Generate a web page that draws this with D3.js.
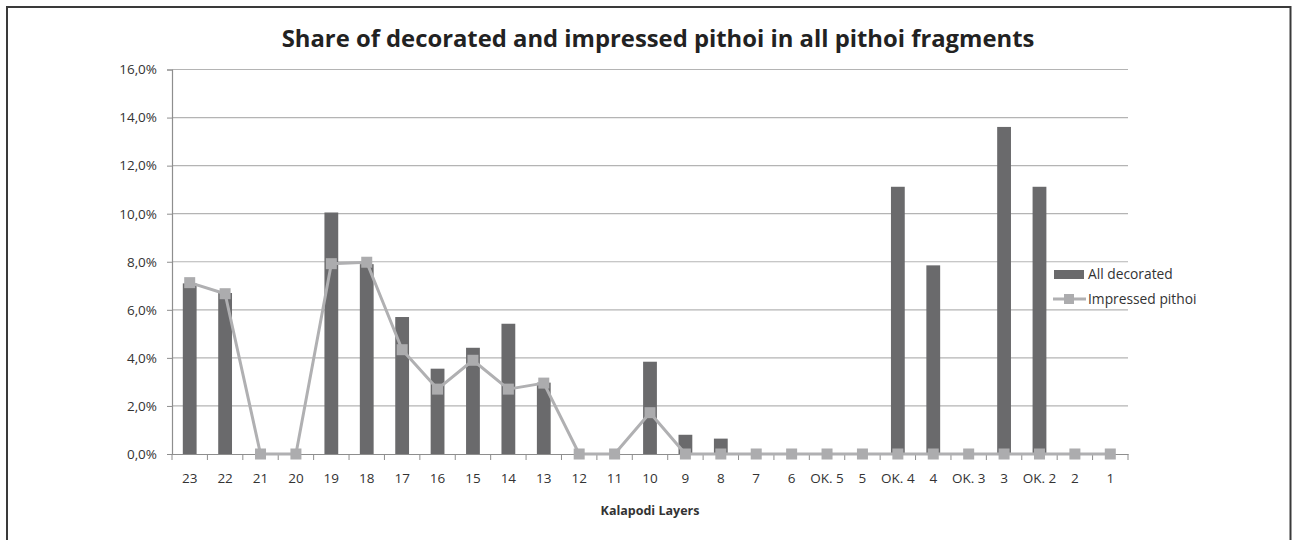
<!DOCTYPE html>
<html><head><meta charset="utf-8">
<script src="https://cdn.jsdelivr.net/npm/d3@7"></script>
<style>body{margin:0;background:#fff;}svg{display:block;font-family:"Open Sans","Noto Sans",sans-serif;}</style>
</head><body><svg id="c" width="1292" height="540"></svg>
<script>
const categories = ["23","22","21","20","19","18","17","16","15","14","13","12","11","10","9","8","7","6","OK. 5","5","OK. 4","4","OK. 3","3","OK. 2","2","1"];
const allDecorated = [7.1,6.7,0,0,10.05,7.9,5.7,3.55,4.42,5.42,2.97,0,0,3.84,0.8,0.64,0,0,0,0,11.12,7.85,0,13.61,11.12,0,0];
const impressed = [7.13,6.67,0,0,7.92,7.98,4.34,2.7,3.9,2.7,2.95,0,0,1.72,0,0,0,0,0,0,0,0,0,0,0,0,0];
const yTicks = [0,2,4,6,8,10,12,14,16];
const seriesNames = ["All decorated","Impressed pithoi"];
const titleText = "Share of decorated and impressed pithoi in all pithoi fragments";
const xTitle = "Kalapodi Layers";

const svg = d3.select("#c");
const L = 172, R = 1128, T = 69.5, B = 454;
const xb = d3.scaleBand().domain(categories).range([L, R]);
const y = d3.scaleLinear().domain([0,16]).range([B, T]);

svg.append("rect").attr("x",7).attr("y",7).attr("width",1283.5).attr("height",560)
  .attr("fill","#fff").attr("stroke","#3a3a3a").attr("stroke-width",2);

// gridlines
svg.append("g").selectAll("line").data(yTicks.filter(d=>d>0)).join("line")
  .attr("x1",L).attr("x2",R).attr("y1",d=>y(d)).attr("y2",d=>y(d))
  .attr("stroke","#b4b4b4").attr("stroke-width",1.2);

// y axis
const ya = svg.append("g").attr("transform",`translate(${L},0)`)
  .call(d3.axisLeft(y).tickValues(yTicks).tickSize(5).tickPadding(10).tickFormat(d=>d.toFixed(1).replace(".",",")+"%"));
ya.select(".domain").attr("stroke","#8e8e8e").attr("stroke-width",1.2);
ya.selectAll(".tick line").attr("stroke","#8e8e8e");
ya.selectAll("text").attr("font-size",13.5).attr("fill","#333").attr("font-family","Open Sans");

// bars
svg.append("g").selectAll("rect").data(categories).join("rect")
  .attr("x",d=>xb(d)+xb.bandwidth()/2-6.9).attr("width",13.8)
  .attr("y",(d,i)=>y(allDecorated[i])).attr("height",(d,i)=>B-y(allDecorated[i]))
  .attr("fill","#6a6a6c");

// x axis
const xa = svg.append("g").attr("transform",`translate(0,${B})`)
  .call(d3.axisBottom(xb).tickSize(0).tickPadding(19));
xa.select(".domain").attr("stroke","#8e8e8e").attr("stroke-width",1.2);
xa.selectAll("text").attr("font-size",13.5).attr("fill","#333").attr("font-family","Open Sans");
svg.append("g").selectAll("line").data(d3.range(categories.length+1)).join("line")
  .attr("x1",i=>L+i*xb.step()).attr("x2",i=>L+i*xb.step()).attr("y1",B).attr("y2",B+6)
  .attr("stroke","#8e8e8e").attr("stroke-width",1);

// line
const line = d3.line().x((d,i)=>xb(categories[i])+xb.bandwidth()/2).y(d=>y(d));
svg.append("path").datum(impressed).attr("d",line).attr("fill","none")
  .attr("stroke","#b0b0b2").attr("stroke-width",3).attr("stroke-linejoin","round");
svg.append("g").selectAll("rect").data(impressed).join("rect")
  .attr("x",(d,i)=>xb(categories[i])+xb.bandwidth()/2-5.5).attr("y",d=>y(d)-5.5)
  .attr("width",11).attr("height",11).attr("fill","#acacae");

// title
const t = svg.append("text").attr("x",658).attr("y",47).attr("text-anchor","middle")
  .attr("font-size",25).attr("font-weight","bold").attr("fill","#222").text(titleText);
const tw = t.node().getComputedTextLength();
t.attr("font-size",25*753/tw);

svg.append("text").attr("x",650).attr("y",515).attr("text-anchor","middle")
  .attr("font-size",12.5).attr("font-weight","bold").attr("fill","#333").text(xTitle);

// legend
const lg = svg.append("g");
lg.append("rect").attr("x",1054).attr("y",270).attr("width",30).attr("height",9).attr("fill","#6a6a6c");
lg.append("line").attr("x1",1053).attr("x2",1086).attr("y1",299).attr("y2",299).attr("stroke","#b0b0b2").attr("stroke-width",3);
lg.append("rect").attr("x",1064).attr("y",294).attr("width",10).attr("height",10).attr("fill","#acacae");
lg.selectAll("text.l").data(seriesNames).join("text").attr("class","l")
  .attr("x",1088).attr("y",(d,i)=>274.5+i*24.5).attr("dy","0.35em")
  .attr("font-size",13.8).attr("fill","#333").text(d=>d);
</script></body></html>
